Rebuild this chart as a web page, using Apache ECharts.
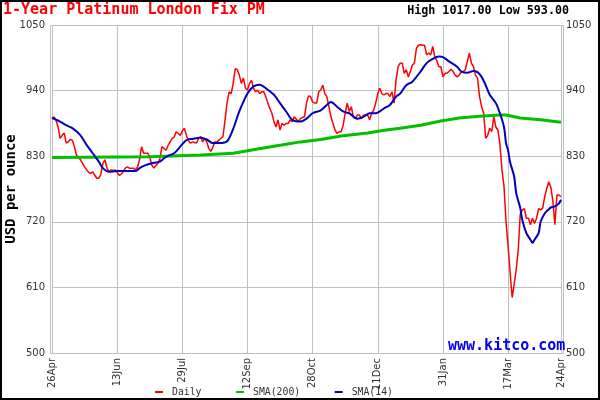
<!DOCTYPE html>
<html><head><meta charset="utf-8">
<script src="https://cdn.jsdelivr.net/npm/echarts@6/dist/echarts.min.js"></script>
<style>html,body{margin:0;padding:0;background:#fff}#c{width:600px;height:400px}</style>
</head><body><div id="c"></div>
<script>
// ---- data ----
const titleText = '1-Year Platinum London Fix PM';
const highLowText = 'High 1017.00 Low 593.00';
const siteText = 'www.kitco.com';
const yName = 'USD per ounce';
const seriesNames = ['Daily', 'SMA(200)', 'SMA(14)'];
const xTickIndex = [0, 32, 64, 96, 128, 160, 192, 224, 250];
const xTickLabels = ['26Apr', '13Jun', '29Jul', '12Sep', '28Oct', '11Dec', '31Jan', '17Mar', '24Apr'];
const yMin = 500, yMax = 1050, yStep = 110;

const daily = [
 894, 896, 890, 879, 860, 865, 869, 852, 854, 858,
 857, 846, 832, 828, 824, 818, 812, 807, 803, 801,
 804, 798, 793, 793, 800, 818, 824, 810, 804, 807,
 806, 807, 803, 798, 800, 804, 810, 812, 810, 810,
 810, 807, 812, 824, 846, 835, 835, 835, 829, 815,
 810, 814, 818, 826, 846, 843, 840, 848, 854, 860,
 862, 871, 868, 865, 872, 877, 865, 856, 852, 854,
 853, 852, 860, 863, 854, 860, 854, 843, 838, 845,
 854, 854, 857, 860, 863, 891, 920, 938, 935, 952,
 977, 975, 966, 952, 961, 944, 941, 952, 957, 944,
 938, 941, 935, 938, 938, 930, 919, 910, 902, 888,
 879, 891, 874, 885, 882, 885, 885, 891, 888, 896,
 892, 888, 893, 895, 896, 919, 931, 930, 921, 919,
 919, 938, 941, 949, 935, 930, 913, 896, 885, 874,
 868, 871, 871, 882, 902, 919, 905, 913, 896, 893,
 899, 899, 893, 899, 899, 899, 891, 902, 907, 919,
 935, 944, 935, 933, 935, 935, 930, 938, 919, 958,
 980, 986, 986, 969, 975, 963, 972, 983, 986, 1011,
 1016, 1017, 1016, 1016, 1000, 1003, 1000, 1014, 997, 990,
 980, 980, 963, 969, 969, 972, 976, 972, 966, 963,
 966, 972, 972, 975, 989, 1003, 986, 980, 966, 961,
 930, 913, 902, 860, 865, 877, 871, 896, 879, 874,
 850, 807, 780, 720, 680, 635, 593, 615, 640, 673,
 733, 740, 742, 726, 726, 715, 726, 717, 726, 742,
 740, 743, 762, 776, 787, 778, 755, 715, 765, 765, 762
];

const sma200 = [
 [0,828],[48,829],[73,832],[89,835],[96,839],[106,845],[115,850],[122,854],[132,858],
 [142,864],[155,869],[164,874],[171,877],[181,882],[191,889],[200,894],[210,897],
 [220,899],[223,899],[230,894],[240,891],[250,887]
];

const sma14 = [
 [0,894],[4,888],[7,882],[10,877],[14,865],[17,849],[20,835],[23,821],[25,810],[28,804],
 [32,805],[36,805],[41,805],[43,810],[46,815],[50,819],[53,821],[56,829],[60,835],[63,846],
 [66,857],[69,859],[73,861],[76,858],[79,852],[82,852],[86,855],[89,876],[92,905],[96,935],
 [99,947],[102,950],[105,944],[109,933],[112,919],[115,905],[118,891],[122,888],[125,893],
 [128,902],[132,907],[135,916],[137,921],[140,913],[143,905],[146,902],[150,893],[153,896],
 [156,902],[159,902],[163,910],[166,916],[169,930],[171,935],[174,949],[177,955],[181,972],
 [184,986],[187,993],[190,997],[192,996],[195,989],[199,980],[201,972],[204,970],[207,973],
 [209,971],[211,963],[213,949],[215,933],[218,919],[220,902],[222,879],[223,852],[224,840],
 [225,820],[227,796],[228,768],[230,743],[231,723],[233,701],[235,690],[236,685],[237,690],
 [239,701],[240,720],[242,734],[244,741],[245,744],[247,746],[249,751],[250,757]
];

// ---- chart ----
const categories = daily.map((_, i) => String(i));
const isTick = (i) => xTickIndex.indexOf(i) >= 0;
const gridColor = '#c0c0c0';
const labelStyle = { fontFamily: 'DejaVu Sans', fontSize: 10, color: '#333' };

const chart = echarts.init(document.getElementById('c'), null, { renderer: 'canvas' });
chart.setOption({
  animation: false,
  backgroundColor: '#fff',
  title: [
    { text: titleText, left: 3, top: 3, padding: 0,
      textStyle: { fontFamily: 'DejaVu Sans Mono', fontWeight: 'bold', fontSize: 15, color: '#ff0000' } },
    { text: highLowText, right: 31, top: 5, padding: 0,
      textStyle: { fontFamily: 'DejaVu Sans Mono', fontWeight: 'bold', fontSize: 11.7, color: '#000' } },
    { text: siteText, left: 448, top: 339, padding: 0,
      textStyle: { fontFamily: 'DejaVu Sans Mono', fontWeight: 'bold', fontSize: 15, color: '#0000ee' } }
  ],
  legend: {
    data: seriesNames, left: 155, top: 387, padding: 0, itemGap: 34.5,
    icon: 'rect', itemWidth: 8, itemHeight: 2,
    textStyle: { fontFamily: 'DejaVu Sans Mono', fontSize: 9.8, color: '#333', padding: [0, 0, 0, 4] }
  },
  grid: { left: 52, right: 39, top: 25, bottom: 47, containLabel: false, outerBoundsMode: 'none' },
  xAxis: {
    type: 'category', boundaryGap: false, data: categories,
    axisLine: { show: false }, axisTick: { show: false },
    axisLabel: Object.assign({
      interval: (i) => isTick(i), rotate: 90, margin: 5,
      formatter: (v) => { const k = xTickIndex.indexOf(+v); return k >= 0 ? xTickLabels[k] : ''; }
    }, labelStyle),
    splitLine: { show: true, interval: (i) => isTick(i), lineStyle: { color: gridColor, width: 1 } }
  },
  yAxis: [
    { type: 'value', min: yMin, max: yMax, interval: yStep, position: 'left',
      axisLine: { show: false }, axisTick: { show: false },
      axisLabel: Object.assign({ margin: 7, formatter: (v) => String(v) }, labelStyle),
      splitLine: { show: true, lineStyle: { color: gridColor, width: 1 } },
      name: yName, nameLocation: 'middle', nameGap: 34, nameRotate: 90, nameMoveOverlap: false,
      nameTextStyle: { fontFamily: 'DejaVu Sans Mono', fontWeight: 'bold', fontSize: 14, color: '#000' } },
    { type: 'value', min: yMin, max: yMax, interval: yStep, position: 'right',
      axisLine: { show: false }, axisTick: { show: false },
      axisLabel: Object.assign({ margin: 5, formatter: (v) => String(v) }, labelStyle),
      splitLine: { show: false } }
  ],
  graphic: [
    { type: 'rect', silent: true, z: 0,
      shape: { x: 50.5, y: 25.5, width: 513, height: 328 },
      style: { fill: null, stroke: gridColor, lineWidth: 1 } },
    { type: 'rect', silent: true, z: 100,
      shape: { x: 1, y: 1, width: 598, height: 398 },
      style: { fill: null, stroke: '#000', lineWidth: 2 } }
  ],
  series: [
    { name: seriesNames[0], type: 'line', data: daily, symbol: 'none', z: 2,
      lineStyle: { color: '#ff0000', width: 1.5 }, itemStyle: { color: '#ff0000' } },
    { name: seriesNames[1], type: 'line', data: sma200, symbol: 'none', z: 3,
      lineStyle: { color: '#00c000', width: 3 }, itemStyle: { color: '#00c000' } },
    { name: seriesNames[2], type: 'line', data: sma14, symbol: 'none', z: 4, smooth: 0.3,
      lineStyle: { color: '#0000c0', width: 2 }, itemStyle: { color: '#0000c0' } }
  ]
});
</script>
</body></html>
